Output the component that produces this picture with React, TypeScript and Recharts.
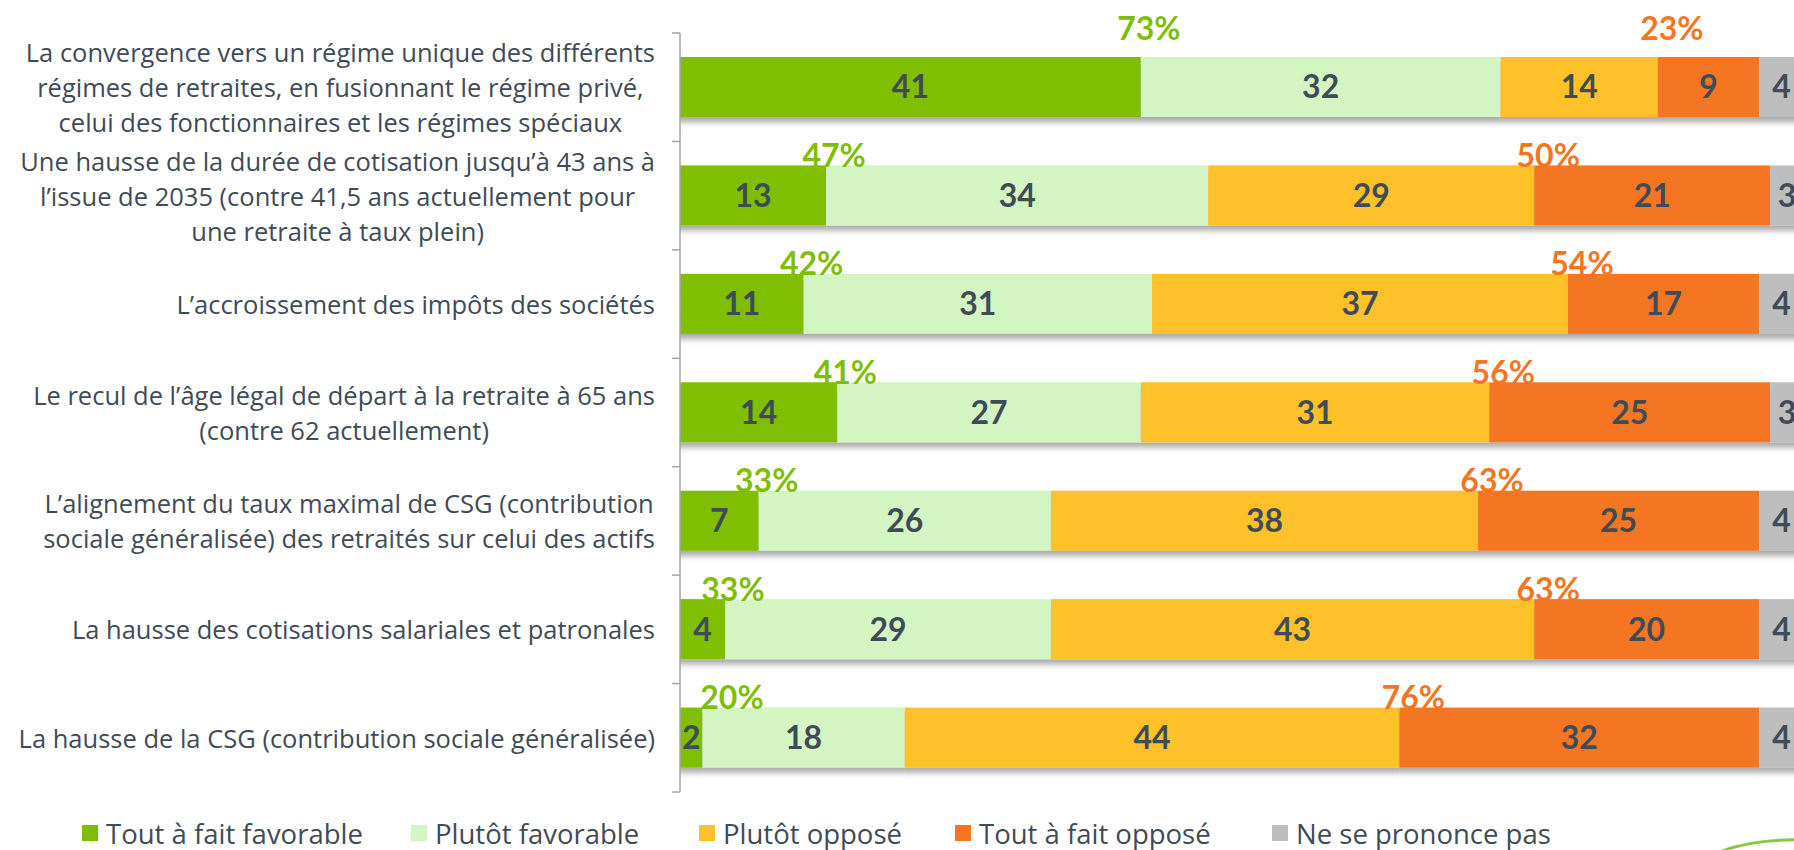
import React from "react";
import { BarChart, Bar, XAxis, YAxis, LabelList } from "recharts";

const CATEGORIES = [
  "La convergence vers un régime unique des différents\nrégimes de retraites, en fusionnant le régime privé,\ncelui des fonctionnaires et les régimes spéciaux",
  "Une hausse de la durée de cotisation jusqu’à 43 ans à\nl’issue de 2035 (contre 41,5 ans actuellement pour\nune retraite à taux plein)",
  "L’accroissement des impôts des sociétés",
  "Le recul de l’âge légal de départ à la retraite à 65 ans\n(contre 62 actuellement)",
  "L’alignement du taux maximal de CSG (contribution\nsociale généralisée) des retraités sur celui des actifs",
  "La hausse des cotisations salariales et patronales",
  "La hausse de la CSG (contribution sociale généralisée)",
];

const TOUT_FAVORABLE = [41, 13, 11, 14, 7, 4, 2];
const PLUTOT_FAVORABLE = [32, 34, 31, 27, 26, 29, 18];
const PLUTOT_OPPOSE = [14, 29, 37, 31, 38, 43, 44];
const TOUT_OPPOSE = [9, 21, 17, 25, 25, 20, 32];
const NSP = [4, 3, 4, 3, 4, 4, 4];

const TOTAL_FAVORABLE = [73, 47, 42, 41, 33, 33, 20];
const TOTAL_OPPOSE = [23, 50, 54, 56, 63, 63, 76];

const SERIES = [
  { key: "tfav", name: "Tout à fait favorable", color: "#7FBE06" },
  { key: "pfav", name: "Plutôt favorable", color: "#D3F5C2" },
  { key: "popp", name: "Plutôt opposé", color: "#FEC12A" },
  { key: "topp", name: "Tout à fait opposé", color: "#F47622" },
  { key: "nsp", name: "Ne se prononce pas", color: "#BEBEBE" },
];

const LEGEND_X = [82, 411, 699, 955, 1272];

const data = CATEGORIES.map((name, i) => ({
  name,
  tfav: TOUT_FAVORABLE[i],
  pfav: PLUTOT_FAVORABLE[i],
  popp: PLUTOT_OPPOSE[i],
  topp: TOUT_OPPOSE[i],
  nsp: NSP[i],
}));

const CHART_W = 1810;
const CHART_H = 800;
const MARGIN = { top: 33, right: 6, bottom: 8, left: 0 };
const AXIS_X = 680;
const BAND = (CHART_H - MARGIN.top - MARGIN.bottom) / CATEGORIES.length;
const TEXT_COLOR = "#3F4B57";
const LABEL_FONT = "Open Sans";
const LABEL_SIZE = 25.5;
const NUM_FONT = "Lato";

let ctx: CanvasRenderingContext2D | null = null;
function measure(text: string, font: string): number {
  if (!ctx) {
    const c = document.createElement("canvas");
    ctx = c.getContext("2d");
  }
  if (!ctx) return text.length * 12;
  ctx.font = font;
  return ctx.measureText(text).width;
}

const CategoryTick = (props: any) => {
  const { y, payload, index } = props;
  const lines: string[] = String(payload.value).split("\n");
  const font = `${LABEL_SIZE}px "${LABEL_FONT}"`;
  const blockW = Math.max(...lines.map((l) => measure(l, font)));
  const cx = 655 - blockW / 2;
  const lh = 35;
  const isLast = index === CATEGORIES.length - 1;
  return (
    <g>
      {lines.map((l, i) => (
        <text
          key={i}
          x={cx}
          y={y + (i - (lines.length - 1) / 2) * lh}
          textAnchor="middle"
          dominantBaseline="central"
          fill={TEXT_COLOR}
          fontFamily={LABEL_FONT}
          fontSize={LABEL_SIZE}
        >
          {l}
        </text>
      ))}
      <line x1={AXIS_X - 8} x2={AXIS_X} y1={y - BAND / 2} y2={y - BAND / 2} stroke="#A6A6A6" strokeWidth={1.5} />
      {isLast && (
        <line x1={AXIS_X - 8} x2={AXIS_X} y1={y + BAND / 2} y2={y + BAND / 2} stroke="#A6A6A6" strokeWidth={1.5} />
      )}
    </g>
  );
};

const ShadowRect = (props: any) => {
  const { x, y, width, height, fill } = props;
  if (!width || width <= 0) return null;
  return <rect x={x} y={y} width={width} height={height} fill={fill} filter="url(#barShadow)" />;
};

const FavLabel = (props: any) => {
  const { x, y, width, index } = props;
  const cx = Math.max(x + width + 8, AXIS_X + 52);
  const cy = index === 0 ? y - 30 : y - 11;
  return (
    <text x={cx} y={cy} textAnchor="middle" dominantBaseline="central" fill="#7FBE06" fontFamily={NUM_FONT} fontWeight="bold" fontSize={32}>
      {TOTAL_FAVORABLE[index]}%
    </text>
  );
};

const OppLabel = (props: any) => {
  const { x, y, index } = props;
  const cx = x + 14;
  const cy = index === 0 ? y - 30 : y - 11;
  return (
    <text x={cx} y={cy} textAnchor="middle" dominantBaseline="central" fill="#F47622" fontFamily={NUM_FONT} fontWeight="bold" fontSize={32}>
      {TOTAL_OPPOSE[index]}%
    </text>
  );
};

export default function App() {
  return (
    <div style={{ position: "absolute", left: 0, top: 0, width: 1794, height: 850, overflow: "hidden", background: "#fff" }}>
      <svg width={0} height={0} style={{ position: "absolute" }}>
        <defs>
          <filter id="barShadow" x="-10%" y="-20%" width="120%" height="160%">
            <feGaussianBlur in="SourceAlpha" stdDeviation="0 3" />
            <feOffset dy="5" result="off" />
            <feComponentTransfer>
              <feFuncA type="linear" slope="0.35" />
            </feComponentTransfer>
            <feMerge>
              <feMergeNode />
              <feMergeNode in="SourceGraphic" />
            </feMerge>
          </filter>
        </defs>
      </svg>
      <BarChart width={CHART_W} height={CHART_H} data={data} layout="vertical" margin={MARGIN} barSize={60}>
        <XAxis type="number" domain={[0, 100]} hide />
        <YAxis
          type="category"
          dataKey="name"
          width={AXIS_X}
          axisLine={{ stroke: "#A6A6A6", strokeWidth: 1.5 }}
          tickLine={false}
          tick={<CategoryTick />}
          interval={0}
        />
        {SERIES.map((s) => (
          <Bar key={s.key} dataKey={s.key} name={s.name} stackId="a" fill={s.color} isAnimationActive={false} shape={<ShadowRect />}>
            <LabelList dataKey={s.key} position="center" fill={TEXT_COLOR} fontFamily={NUM_FONT} fontWeight="bold" fontSize={32} />
            {s.key === "tfav" && <LabelList dataKey={s.key} content={<FavLabel />} />}
            {s.key === "topp" && <LabelList dataKey={s.key} content={<OppLabel />} />}
          </Bar>
        ))}
      </BarChart>
      {SERIES.map((s, i) => (
        <div
          key={s.key}
          style={{
            position: "absolute",
            left: LEGEND_X[i],
            top: 814,
            height: 38,
            display: "flex",
            alignItems: "center",
            fontFamily: LABEL_FONT,
            fontSize: 27.5,
            color: TEXT_COLOR,
            whiteSpace: "nowrap",
          }}
        >
          <span style={{ display: "inline-block", width: 16, height: 16, background: s.color, marginRight: 8 }} />
          <span>{s.name}</span>
        </div>
      ))}
      <svg width={120} height={60} style={{ position: "absolute", left: 1700, top: 812 }}>
        <path d="M 15 42 Q 50 26 110 28" fill="none" stroke="#8CC63F" strokeWidth={3} />
      </svg>
    </div>
  );
}
